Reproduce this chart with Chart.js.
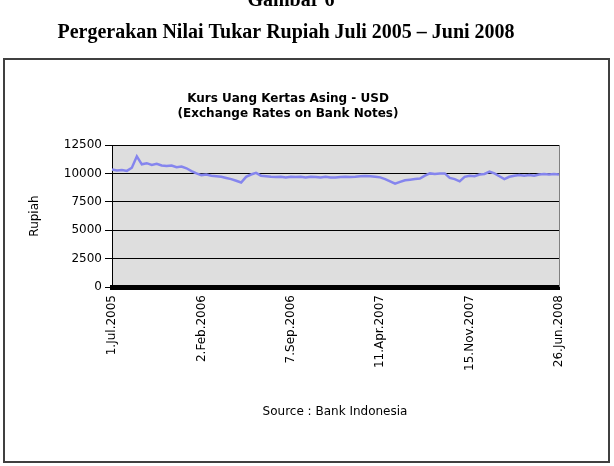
<!DOCTYPE html>
<html>
<head>
<meta charset="utf-8">
<script src="https://cdn.jsdelivr.net/npm/chart.js@4"></script>
<style>
  body { margin: 0; background: #fff; }
</style>
</head>
<body>
<canvas id="kursChart" width="614" height="466"></canvas>
<script>
var categories = [
    '1.Jul.2005', '13.Jul.2005', '25.Jul.2005', '6.Aug.2005', '18.Aug.2005', '30.Aug.2005',
    '11.Sep.2005', '23.Sep.2005', '5.Oct.2005', '17.Oct.2005', '29.Oct.2005', '10.Nov.2005',
    '22.Nov.2005', '4.Dec.2005', '16.Dec.2005', '28.Dec.2005', '9.Jan.2006', '21.Jan.2006',
    '2.Feb.2006', '14.Feb.2006', '26.Feb.2006', '10.Mar.2006', '22.Mar.2006', '3.Apr.2006',
    '15.Apr.2006', '27.Apr.2006', '9.May.2006', '21.May.2006', '2.Jun.2006', '14.Jun.2006',
    '26.Jun.2006', '8.Jul.2006', '20.Jul.2006', '1.Aug.2006', '13.Aug.2006', '25.Aug.2006',
    '7.Sep.2006', '19.Sep.2006', '1.Oct.2006', '13.Oct.2006', '25.Oct.2006', '6.Nov.2006',
    '18.Nov.2006', '30.Nov.2006', '12.Dec.2006', '24.Dec.2006', '5.Jan.2007', '17.Jan.2007',
    '29.Jan.2007', '10.Feb.2007', '22.Feb.2007', '6.Mar.2007', '18.Mar.2007', '30.Mar.2007',
    '11.Apr.2007', '23.Apr.2007', '5.May.2007', '17.May.2007', '29.May.2007', '10.Jun.2007',
    '22.Jun.2007', '4.Jul.2007', '16.Jul.2007', '28.Jul.2007', '9.Aug.2007', '21.Aug.2007',
    '2.Sep.2007', '14.Sep.2007', '26.Sep.2007', '8.Oct.2007', '20.Oct.2007', '1.Nov.2007',
    '15.Nov.2007', '27.Nov.2007', '9.Dec.2007', '21.Dec.2007', '2.Jan.2008', '14.Jan.2008',
    '26.Jan.2008', '7.Feb.2008', '19.Feb.2008', '2.Mar.2008', '14.Mar.2008', '26.Mar.2008',
    '7.Apr.2008', '19.Apr.2008', '1.May.2008', '13.May.2008', '25.May.2008', '6.Jun.2008',
    '26.Jun.2008'
];

var rupiahValues = [
    10350, 10250, 10300, 10220, 10500, 11500,
    10800, 10900, 10750, 10850, 10700, 10650,
    10700, 10550, 10600, 10450, 10200, 10000,
    9850, 9900, 9800, 9750, 9700, 9600,
    9500, 9350, 9200, 9700, 9900, 10050,
    9800, 9750, 9700, 9680, 9700, 9650,
    9700, 9680, 9700, 9650, 9700, 9680,
    9650, 9700, 9650, 9650, 9680, 9700,
    9680, 9700, 9750, 9780, 9750, 9700,
    9650, 9500, 9300, 9100, 9250, 9400,
    9450, 9500, 9550, 9800, 10000, 9950,
    10000, 10000, 9600, 9500, 9300, 9700,
    9800, 9750, 9900, 9950, 10150, 10000,
    9750, 9500, 9700, 9800, 9850, 9800,
    9850, 9800, 9900, 9950, 9900, 9950,
    9900
];

var tickLabels = ['1.Jul.2005', '2.Feb.2006', '7.Sep.2006', '11.Apr.2007', '15.Nov.2007', '26.Jun.2008'];

var axisFont = { family: 'DejaVu Sans', size: 12 };

// judul halaman, kotak luar, judul grafik, sumber
var decorPlugin = {
    id: 'decor',
    beforeDraw: function (chart) {
        var ctx = chart.ctx;
        var area = chart.chartArea;
        ctx.save();
        ctx.fillStyle = '#ffffff';
        ctx.fillRect(0, 0, chart.width, chart.height);

        ctx.fillStyle = '#000';
        ctx.textAlign = 'center';
        ctx.font = 'bold 20px "Liberation Serif"';
        ctx.fillText('Gambar 6', 291, 6);
        ctx.fillText('Pergerakan Nilai Tukar Rupiah Juli 2005 \u2013 Juni 2008', 286, 38);

        ctx.strokeStyle = '#404040';
        ctx.lineWidth = 2;
        ctx.strokeRect(4, 59, 605, 403);

        ctx.font = 'bold 12px "DejaVu Sans"';
        ctx.fillText('Kurs Uang Kertas Asing - USD', 288, 102);
        ctx.fillText('(Exchange Rates on Bank Notes)', 288, 117);

        ctx.font = '12px "DejaVu Sans"';
        ctx.fillText('Source : Bank Indonesia', 335, 415);

        ctx.fillStyle = '#dedede';
        ctx.fillRect(area.left, area.top, area.right - area.left, area.bottom - area.top);
        ctx.restore();
    },
    afterDraw: function (chart) {
        var ctx = chart.ctx;
        var area = chart.chartArea;
        ctx.save();
        ctx.strokeStyle = '#808080';
        ctx.lineWidth = 1;
        ctx.beginPath();
        ctx.moveTo(area.right + 0.5, area.top);
        ctx.lineTo(area.right + 0.5, area.bottom);
        ctx.stroke();
        ctx.restore();
    }
};

var kursChart = new Chart(document.getElementById('kursChart').getContext('2d'), {
    type: 'line',
    data: {
        labels: categories,
        datasets: [{
            data: rupiahValues,
            borderColor: '#8585ee',
            borderWidth: 2.5,
            pointRadius: 0,
            tension: 0,
            fill: false
        }]
    },
    options: {
        responsive: false,
        animation: false,
        layout: { padding: { top: 145, right: 55, left: 0, bottom: 0 } },
        plugins: {
            legend: { display: false },
            tooltip: { enabled: false }
        },
        scales: {
            x: {
                offset: false,
                grid: { display: false, drawTicks: false },
                border: { color: '#000', width: 5 },
                ticks: {
                    autoSkip: false,
                    maxRotation: 90,
                    minRotation: 90,
                    padding: 8,
                    color: '#000',
                    font: axisFont,
                    callback: function (value, index) {
                        var lbl = categories[index];
                        return tickLabels.indexOf(lbl) >= 0 ? lbl : null;
                    }
                },
                afterFit: function (scale) { scale.height = 179; }
            },
            y: {
                min: 0,
                max: 12500,
                grid: { color: '#000', lineWidth: 1, tickLength: 7 },
                border: { color: '#000', width: 1 },
                ticks: {
                    stepSize: 2500,
                    padding: 3,
                    color: '#000',
                    font: axisFont,
                    callback: function (value) { return String(value); }
                },
                title: {
                    display: true,
                    text: 'Rupiah',
                    color: '#000',
                    font: axisFont,
                    padding: { top: 28, bottom: 0 }
                },
                afterFit: function (scale) { scale.width = 112; }
            }
        }
    },
    plugins: [decorPlugin]
});
</script>
</body>
</html>
